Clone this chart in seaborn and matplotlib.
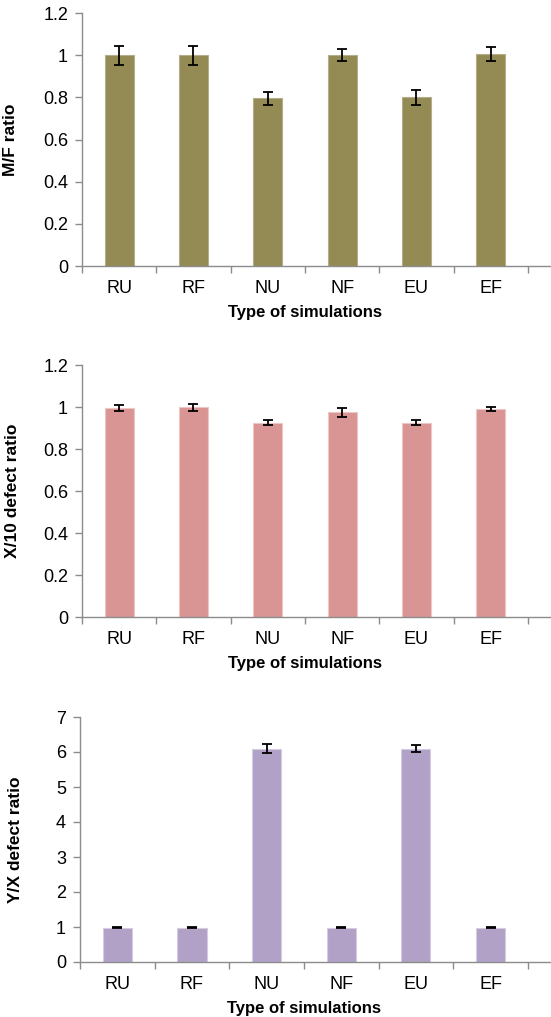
import matplotlib
matplotlib.use("Agg")
import matplotlib.pyplot as plt
import seaborn as sns
import pandas as pd
import numpy as np
from matplotlib.ticker import FuncFormatter, MultipleLocator, FixedLocator

categories = ["RU", "RF", "NU", "NF", "EU", "EF"]

mf_values = [1.0, 1.0, 0.795, 1.0, 0.80, 1.005]
mf_errors = [0.045, 0.045, 0.030, 0.027, 0.035, 0.035]

x10_values = [0.995, 0.998, 0.926, 0.975, 0.926, 0.990]
x10_errors = [0.015, 0.017, 0.014, 0.022, 0.014, 0.011]

yx_values = [0.98, 0.98, 6.10, 0.98, 6.10, 0.98]
yx_errors = [0.02, 0.02, 0.14, 0.02, 0.10, 0.02]

panels = [
    dict(values=mf_values, errors=mf_errors, color="#948A54", edge="#B5AE88",
         ylabel="M/F ratio", ymax=1.2, step=0.2),
    dict(values=x10_values, errors=x10_errors, color="#D99594", edge="#EDC6C5",
         ylabel="X/10 defect ratio", ymax=1.2, step=0.2),
    dict(values=yx_values, errors=yx_errors, color="#B2A1C7", edge="#D6CCE2",
         ylabel="Y/X defect ratio", ymax=7, step=1),
]

sns.set_theme(style="white")
plt.rcParams["font.family"] = ["Liberation Sans", "DejaVu Sans"]

W, H = 551, 1017
fig = plt.figure(figsize=(W / 100, H / 100), dpi=100)

# axes boxes in pixel coords: left, top, bottom
boxes = [(82, 13, 266), (82, 365, 617), (80, 717, 962)]
ylabel_x = [18, 20, 23]

axis_gray = "#8C8C8C"
xmin, xmax = -0.5, 5.81

for p, (left, top, bottom), ylx in zip(panels, boxes, ylabel_x):
    ax = fig.add_axes([left / W, 1 - bottom / H, (W - left) / W, (bottom - top) / H])
    df = pd.DataFrame({"cat": categories, "val": p["values"]})
    sns.barplot(data=df, x="cat", y="val", color=p["color"], width=0.39,
                errorbar=None, ax=ax, edgecolor=p["edge"], linewidth=0.8,
                saturation=1)
    ax.errorbar(np.arange(len(categories)), p["values"], yerr=p["errors"],
                fmt="none", ecolor="black", elinewidth=1.3, capsize=3.6,
                capthick=1.3, zorder=5)
    ax.set_xlim(xmin, xmax)
    ax.set_ylim(0, p["ymax"])
    ax.yaxis.set_major_locator(MultipleLocator(p["step"]))
    ax.yaxis.set_major_formatter(FuncFormatter(lambda v, pos: f"{v:g}"))
    ax.xaxis.set_minor_locator(FixedLocator(np.arange(-0.5, 6.0, 1.0)))
    for s in ["top", "right"]:
        ax.spines[s].set_visible(False)
    for s in ["left", "bottom"]:
        ax.spines[s].set_color(axis_gray)
        ax.spines[s].set_linewidth(1.0)
    ax.tick_params(axis="x", which="major", length=0, pad=10, labelsize=13,
                   labelcolor="black")
    ax.tick_params(axis="x", which="minor", length=5, width=1.0,
                   color=axis_gray, direction="out", bottom=True)
    ax.tick_params(axis="y", which="major", length=5, width=1.0,
                   color=axis_gray, direction="out", left=True, pad=5,
                   labelsize=13, labelcolor="black")
    ax.set_xlabel("Type of simulations", fontsize=12, fontweight="bold",
                  color="black")
    ax.set_ylabel(p["ylabel"], fontsize=12.5, fontweight="bold", color="black")
    # x label centred on the category span, top ~39 px below axis
    cx_px = left + (2.5 - xmin) / (xmax - xmin) * (W - left)
    ax.xaxis.set_label_coords(cx_px / W, 1 - (bottom + 39) / H,
                              transform=fig.transFigure)
    ax.yaxis.set_label_coords(ylx / W, 1 - ((top + bottom) / 2) / H,
                              transform=fig.transFigure)
    ax.set_facecolor("white")

fig.savefig("out.png", dpi=100, facecolor="white")
